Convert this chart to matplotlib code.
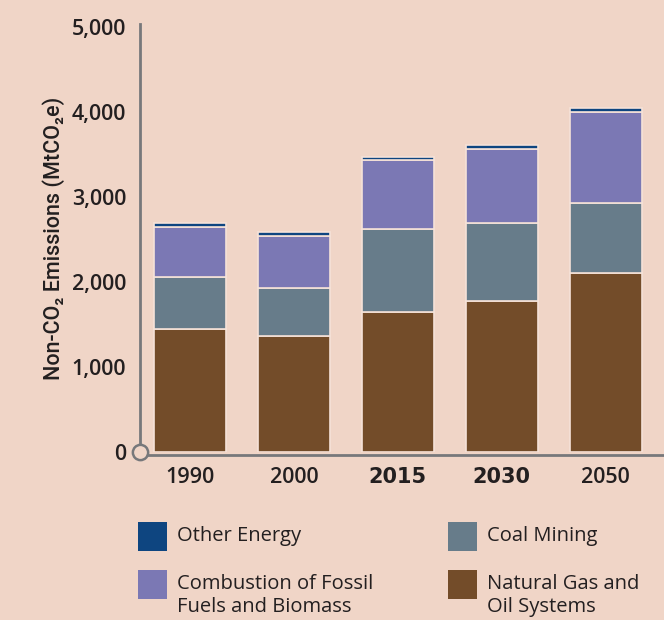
import numpy as np
import matplotlib.pyplot as plt
from matplotlib.patches import Rectangle

years = ["1990", "2000", "2015", "2030", "2050"]
natural_gas = [1447, 1365, 1647, 1776, 2106]
coal_mining = [612, 564, 977, 918, 823]
combustion = [590, 612, 811, 871, 1071]
other_energy = [50, 45, 35, 47, 47]

series_names = ["Natural Gas and\nOil Systems", "Coal Mining",
                "Combustion of Fossil\nFuels and Biomass", "Other Energy"]
colors = ["#734c29", "#677c8a", "#7b78b4", "#0e4580"]
bg = "#f0d5c7"
ink = "#231f20"

plt.rcParams['font.family'] = ["Open Sans", "DejaVu Sans"]

fig = plt.figure(figsize=(6.64, 6.2), dpi=100, facecolor=bg)
ax = fig.add_axes([140 / 664, (620 - 452) / 620, 524 / 664, 428 / 620])
ax.set_facecolor(bg)

x = np.arange(len(years))
bottom = np.zeros(len(years))
for vals, col in zip([natural_gas, coal_mining, combustion, other_energy], colors):
    ax.bar(x, vals, width=0.69, bottom=bottom, color=col,
           edgecolor="#f5e2d8", linewidth=1.2, zorder=2)
    bottom += np.array(vals)

# spines first -- set_position resets the ticks
for s in ["top", "right"]:
    ax.spines[s].set_visible(False)
for s in ["left", "bottom"]:
    ax.spines[s].set_color("#77787b")
    ax.spines[s].set_linewidth(2)
ax.spines["bottom"].set_position(("outward", 2))

ax.set_xlim(-0.48, 4.56)
ax.set_ylim(0, 5035)
ax.tick_params(axis="both", length=0)
ax.tick_params(axis="y", pad=10)
ax.tick_params(axis="x", pad=9)
ax.set_yticks([0, 1000, 2000, 3000, 4000, 5000])
ax.set_yticklabels(["0", "1,000", "2,000", "3,000", "4,000", "5,000"],
                   fontsize=15.5, fontweight="semibold", color=ink)
ax.set_xticks(x)
ax.set_xticklabels(years, fontsize=15.5, fontweight="semibold", color=ink)
for lab in ax.get_xticklabels():
    if lab.get_text() in ("2015", "2030"):
        lab.set_family("DejaVu Sans")
        lab.set_fontsize(15)
        lab.set_fontweight("bold")

ax.plot([-0.48], [0], marker="o", markersize=11, markerfacecolor=bg,
        markeredgecolor="#77787b", markeredgewidth=1.8, clip_on=False, zorder=5)

ax.set_ylabel("Non-CO\u2082 Emissions (MtCO\u2082e)", fontsize=15.5,
              fontweight="medium", family=["Roboto", "DejaVu Sans"],
              color=ink, labelpad=5)

# legend drawn by hand: two columns, square swatch + text
legend_order = [3, 2, 1, 0]
for i, idx in enumerate(legend_order):
    col_i, row_i = i // 2, i % 2
    x0 = [138, 448][col_i] / 664
    y0 = 1 - [551, 599][row_i] / 620
    fig.patches.append(Rectangle((x0, y0), 29 / 664, 29 / 620,
                                 transform=fig.transFigure, facecolor=colors[idx],
                                 edgecolor="none"))
    fig.text(x0 + 39 / 664, y0 + 25 / 620, series_names[idx], fontsize=14.5,
             color=ink, va="top", ha="left", linespacing=1.2)

fig.savefig("out.png", dpi=100, facecolor=bg)
